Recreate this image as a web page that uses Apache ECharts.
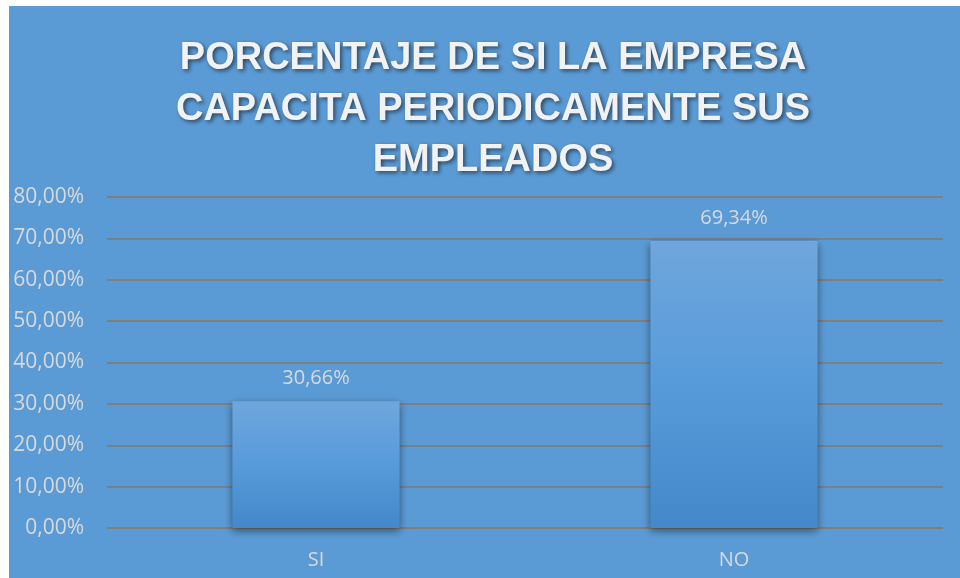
<!DOCTYPE html>
<html>
<head>
<meta charset="utf-8">
<script src="https://cdn.jsdelivr.net/npm/echarts@6/dist/echarts.min.js"></script>
<style>
  html, body { margin: 0; padding: 0; background: #fff; }
  #main { width: 960px; height: 578px; }
</style>
</head>
<body>
<div id="main"></div>
<script>
var categories = ['SI', 'NO'];
var values = [0.3066, 0.6934];
var titleText = 'PORCENTAJE DE SI LA EMPRESA\nCAPACITA PERIODICAMENTE SUS\nEMPLEADOS';

function pct(v) {
	return (v * 100).toFixed(2).replace('.', ',') + '%';
}

var myChart = echarts.init(document.getElementById('main'));

myChart.setOption({
	backgroundColor: '#ffffff',
	graphic: [
		{
			type: 'rect',
			z: -10,
			shape: { x: 9, y: 6, width: 951, height: 572 },
			style: { fill: '#5B9BD5' }
		}
	],
	title: {
		text: titleText,
		left: 488,
		textAlign: 'center',
		top: 28,
		textStyle: {
			color: '#F2F2F2',
			fontFamily: 'Liberation Sans',
			fontWeight: 'bold',
			fontSize: 38,
			lineHeight: 51,
			textShadowColor: 'rgba(0,0,0,0.55)',
			textShadowBlur: 4,
			textShadowOffsetX: 2,
			textShadowOffsetY: 2
		}
	},
	grid: {
		left: 107,
		right: 17,
		top: 197,
		bottom: 50
	},
	xAxis: {
		type: 'category',
		data: categories,
		axisLine: { show: false },
		axisTick: { show: false },
		axisLabel: {
			color: '#D9D9D9',
			fontFamily: 'Open Sans',
			fontSize: 20,
			margin: 22
		}
	},
	yAxis: {
		type: 'value',
		min: 0,
		max: 0.8,
		interval: 0.1,
		axisLine: { show: false },
		axisTick: { show: false },
		axisLabel: {
			color: '#D9D9D9',
			fontFamily: 'Open Sans',
			fontSize: 21,
			margin: 23,
			formatter: pct
		},
		splitLine: {
			lineStyle: { color: '#7F7F7F', width: 2 }
		}
	},
	series: [
		{
			type: 'bar',
			data: values,
			barWidth: '40%',
			itemStyle: {
				color: new echarts.graphic.LinearGradient(0, 0, 0, 1, [
					{ offset: 0, color: '#6FA6DC' },
					{ offset: 0.5, color: '#579BDB' },
					{ offset: 1, color: '#4488C9' }
				]),
				shadowColor: 'rgba(0,0,0,0.45)',
				shadowBlur: 8,
				shadowOffsetX: 0,
				shadowOffsetY: 3
			},
			label: {
				show: true,
				position: 'top',
				distance: 13,
				color: '#D9D9D9',
				fontFamily: 'Open Sans',
				fontSize: 20,
				formatter: function (p) { return pct(p.value); }
			}
		}
	]
});
</script>
</body>
</html>
